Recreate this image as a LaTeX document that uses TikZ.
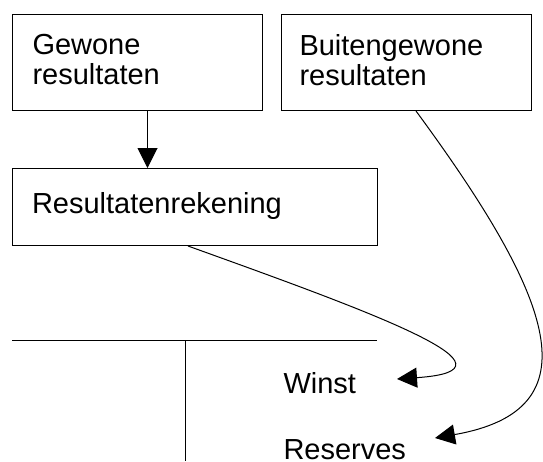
\documentclass[tikz,border=0pt]{standalone}
\usepackage{fontspec}
\setmainfont{Liberation Sans}
\usetikzlibrary{arrows.meta, positioning}

\begin{document}
\begin{tikzpicture}[x=1pt,y=-1pt,font=\fontsize{29}{30}\selectfont,->,>={Triangle[length=20pt,width=20pt]},line width=1pt]

	\tikzset{box/.style={draw, rectangle, inner sep=0pt, anchor=north west}}
	\tikzset{txt/.style={inner sep=0pt, align=left}}

	\useasboundingbox (0,0) rectangle (543,461);

	% the three boxes
	\node[box, minimum width=250pt, minimum height=96pt] (gew) at (12,14) {};
	\node[box, minimum width=250pt, minimum height=96pt] (buit) at (281,14) {};
	\node[box, minimum width=365pt, minimum height=77pt] (res) at (12,168) {};

	\node[txt, anchor=north west] (gewtxt) at (32,34) {Gewone\\resultaten};
	\node[txt, anchor=north west] (buittxt) at (299,34) {Buitengewone\\resultaten};
	\node[txt, anchor=base west] (restxt) at (31.5,213) {Resultatenrekening};

	% T-account
	\coordinate (tl) at (12,340);
	\coordinate (tr) at (377,340);
	\coordinate (tm) at (185,340);
	\coordinate (tb) at (185,461);
	\draw[-] (tl) -- (tr);
	\draw[-] (tm) -- (tb);

	\node[txt, anchor=base west] (winst) at (283,393) {Winst};
	\node[txt, anchor=base west] (reserves) at (283,459) {Reserves};

	\coordinate (winstin) at (397,379);
	\coordinate (resin) at (435,438);

	\draw ([xshift=10pt]gew.south) -- ([xshift=10pt]gew.south |- res.north);
	\draw ([xshift=-7pt]res.south) .. controls (380,315) and (530,370) .. (winstin);
	\draw ([xshift=9.5pt]buit.south) .. controls (555,300) and (595,410) .. (resin);

\end{tikzpicture}
\end{document}
